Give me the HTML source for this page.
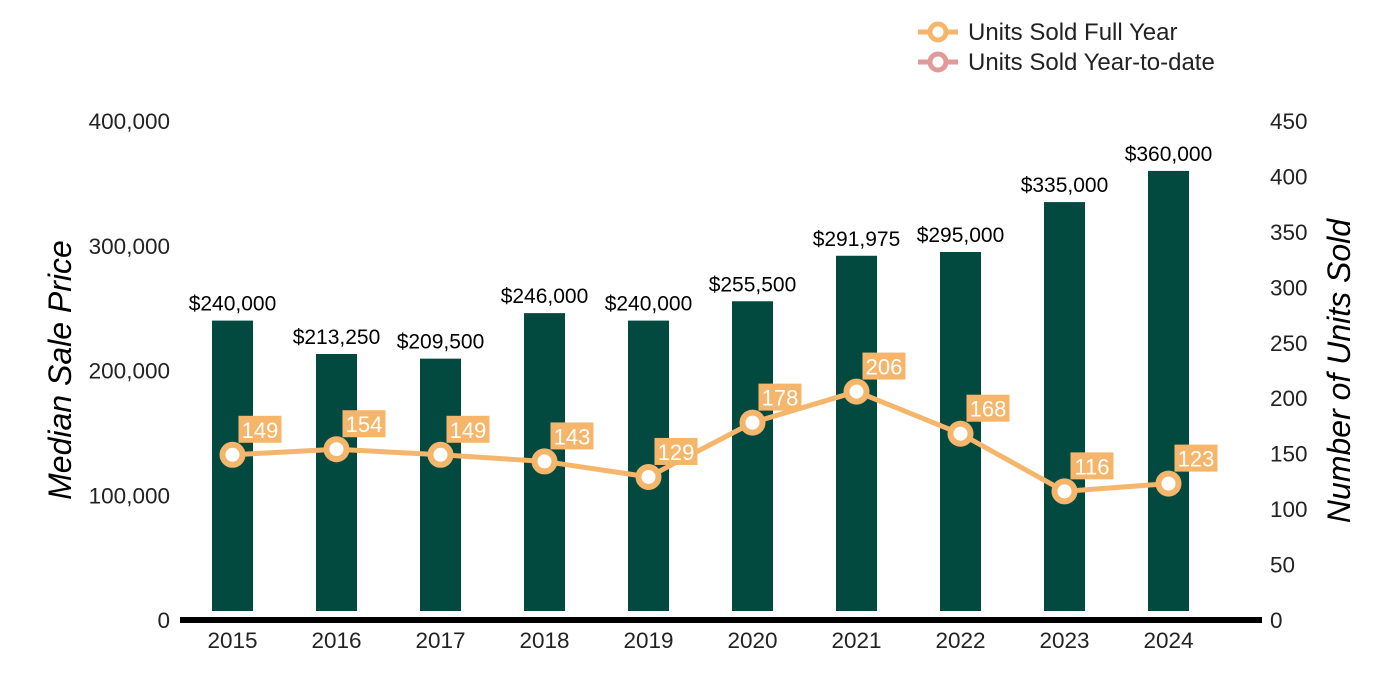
<!DOCTYPE html>
<html><head><meta charset="utf-8"><style>
body{margin:0;background:#fff}
svg{display:block;font-family:"Liberation Sans",Arial,sans-serif}
</style></head><body>
<svg id="c" width="1400" height="700"></svg>
<script>
const years=['2015','2016','2017','2018','2019','2020','2021','2022','2023','2024'];
const prices=[240000,213250,209500,246000,240000,255500,291975,295000,335000,360000];
const priceLabels=['$240,000','$213,250','$209,500','$246,000','$240,000','$255,500','$291,975','$295,000','$335,000','$360,000'];
const units=[149,154,149,143,129,178,206,168,116,123];
const leftTicks=[0,100000,200000,300000,400000];
const rightTicks=[0,50,100,150,200,250,300,350,400,450];
const NS='http://www.w3.org/2000/svg';
const svg=document.getElementById('c');
const y0=620;
const yL=v=>y0-v*(499/400000);
const yR=v=>y0-v*(499/450);
const xC=i=>232.5+i*104;
function mk(t,a,p){const e=document.createElementNS(NS,t);for(const k in a)e.setAttribute(k,a[k]);(p||svg).appendChild(e);return e;}
function txt(s,a){const e=mk('text',a);e.textContent=s;return e;}
leftTicks.forEach(v=>{const e=txt(v.toLocaleString('en-US'),{x:170,y:yL(v)+8,'text-anchor':'end','font-size':22.5,fill:'#222'});

});
rightTicks.forEach(v=>{const e=txt(String(v),{x:1270,y:yR(v)+8,'font-size':22.5,fill:'#222'});

});
years.forEach((y,i)=>{
const b=mk('rect',{x:xC(i)-20.5,y:yL(prices[i]),width:41,height:611-yL(prices[i]),fill:'#024a40'});


const l=txt(priceLabels[i],{x:xC(i),y:yL(prices[i])-10,'text-anchor':'middle','font-size':21,fill:'#000'});


const t=txt(y,{x:xC(i),y:648,'text-anchor':'middle','font-size':22.5,fill:'#222'});


});
const ax=mk('rect',{x:180,y:617,width:1082,height:6,fill:'#000'});


const pl=mk('polyline',{points:units.map((u,i)=>xC(i)+','+yR(u)).join(' '),fill:'none',stroke:'#f5b66c','stroke-width':5});


units.forEach((u,i)=>{const cx=xC(i),cy=yR(u);
const c=mk('circle',{cx:cx,cy:cy,r:10,fill:'#fff',stroke:'#f5b66c','stroke-width':6});


const r=mk('rect',{x:cx+6,y:cy-39,width:43,height:27,fill:'#f5b66c'});


const t=txt(String(u),{x:cx+27.5,y:cy-17,'text-anchor':'middle','font-size':22,fill:'#fff'});


});
const lt=txt('Median Sale Price',{x:0,y:0,'font-size':32,'font-style':'italic',fill:'#000','text-anchor':'middle',transform:'translate(71,370) rotate(-90)'});


const rt=txt('Number of Units Sold',{x:0,y:0,'font-size':32,'font-style':'italic',fill:'#000','text-anchor':'middle',transform:'translate(1350,371) rotate(-90)'});


[['Units Sold Full Year','#f5b66c',32],['Units Sold Year-to-date','#e09a98',62]].forEach(([s,col,y])=>{
const g=mk('g',{});


mk('line',{x1:918,y1:y,x2:958,y2:y,stroke:col,'stroke-width':5},g);
mk('circle',{cx:938,cy:y,r:8,fill:'#fff',stroke:col,'stroke-width':5},g);
const t=mk('text',{x:968,y:y+8,'font-size':24,fill:'#222'},g);t.textContent=s;
});
</script>
</body></html>
